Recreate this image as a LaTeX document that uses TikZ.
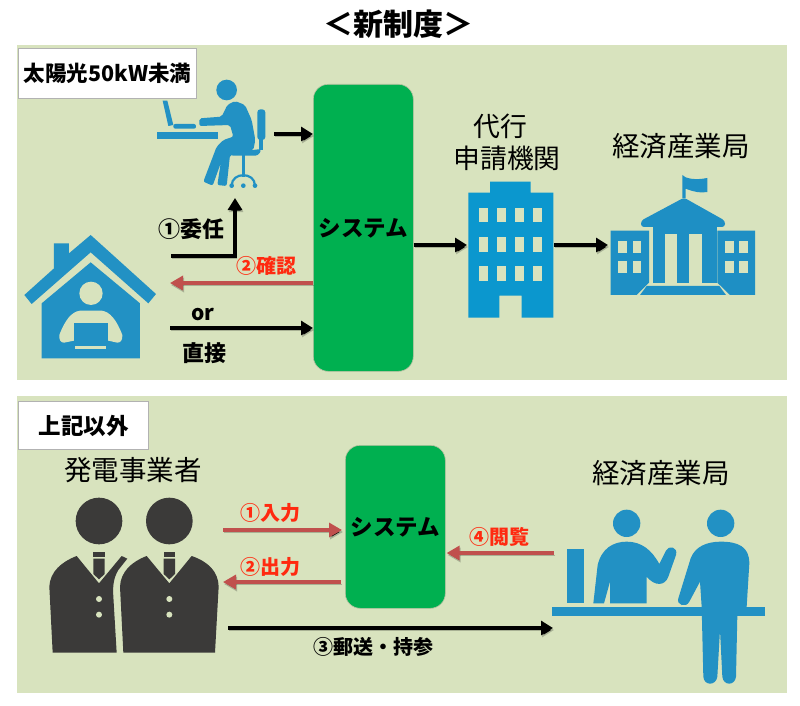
\documentclass[tikz,border=0pt]{standalone}
\usepackage{fontspec}
\setmainfont{Noto Sans CJK JP}
\usetikzlibrary{arrows.meta}
\definecolor{panelbg}{HTML}{D8E3BE}
\definecolor{sysgreen}{HTML}{00B050}
\definecolor{iconblue}{HTML}{2291C4}
\definecolor{bldblue}{HTML}{0B97CE}
\definecolor{metiblue}{HTML}{1E8FC4}
\definecolor{suit}{HTML}{3B3A39}
\definecolor{arrowred}{HTML}{C0504D}
\definecolor{txtred}{HTML}{FF2A10}
\newcommand{\fsz}[1]{\fontsize{#1}{#1}\selectfont}
\tikzset{
  panel/.style={fill=panelbg,draw=none},
  labelbox/.style={draw=black!30,line width=1pt,fill=white,anchor=north west,inner sep=0pt,font=\bfseries\fsz{21.5}},
  sysbox/.style={fill=sysgreen,draw=black!15!panelbg,line width=.6pt,rounded corners=15pt,anchor=north west,inner sep=0pt,font=\bfseries\fsz{22.5}},
  plain/.style={inner sep=0pt,font=\fsz{27.5}},
  blk/.style={inner sep=0pt,font=\bfseries\fsz{21}},
  redt/.style={inner sep=0pt,text=txtred,font=\bfseries\fsz{20}},
  shad/.style={preaction={draw=black,draw opacity=.22,transform canvas={shift={(1pt,-2pt)}}}},
  blackarrow/.style={shad,draw=black,line width=3.4pt,-{Triangle[width=14pt,length=12pt]}},
  redarrow/.style={shad,draw=arrowred,line width=4pt,-{Triangle[width=14pt,length=13pt]}},
  zoomA/.style={shift={(0,40)},scale=1/3},
  zoomB/.style={shift={(440,100)},scale=1/3},
  zoomC/.style={shift={(20,450)},scale=1/3},
  zoomD/.style={shift={(430,450)},scale=1/3},
}
\begin{document}
\begin{tikzpicture}[x=1pt,y=-1pt]
\useasboundingbox (0,0) rectangle (800,706);
\fill[white] (0,0) rectangle (800,706);
\fill[panel] (17,45) rectangle (787,380);
\fill[panel] (17,396) rectangle (787,693);
\node[inner sep=0pt,font=\bfseries\fsz{30}] (title) at (398,24) {＜新制度＞};
\node[labelbox,minimum width=178pt,minimum height=50pt] (lab1) at (18,48) {太陽光50kW未満};
\node[labelbox,minimum width=130pt,minimum height=48pt,font=\bfseries\fsz{22.5}] (lab2) at (18,401) {上記以外};

% worker
\begin{scope}[zoomA,iconblue]
\fill (680,150) circle (31);
\fill (488,182) -- (502,182) -- (520,255) -- (505,258) -- cycle;
\fill[rounded corners=2pt] (520,252) rectangle (588,266);
\fill (472,275) rectangle (655,296);
\fill[rounded corners=2pt] (598,235) -- (598,258) -- (690,255) -- (700,290) -- (670,300) -- (650,320) -- (610,425) -- (638,437) -- (662,370) -- (652,435) -- (680,438) -- (690,345) -- (760,330) -- (766,300) -- (755,240) -- (735,195) -- (705,183) -- (682,195) -- (665,230) -- cycle;
\fill[rounded corners=3pt] (772,208) rectangle (796,300);
\fill (778,295) rectangle (788,330);
\fill[rounded corners=3pt] (690,337) -- (785,327) -- (775,347) -- (690,347) -- cycle;
\fill (725,345) rectangle (735,410);
\draw[line width=2.2pt] (695,437) .. controls (695,395) and (765,395) .. (765,437);
\fill (695,437) circle (7);
\fill (730,437) circle (7);
\fill (765,437) circle (7);
\end{scope}

% house
\begin{scope}[zoomA]
\fill[iconblue] (162,610) -- (207,610) -- (207,640) -- (272,585) -- (468,762) -- (445,790) -- (272,637) -- (95,792) -- (73,765) -- (162,685) -- cycle;
\fill[iconblue] (125,790) -- (272,667) -- (420,790) -- (420,955) -- (125,955) -- cycle;
\fill[panelbg] (273,760) circle (35);
\fill[panelbg] (178,885) .. controls (195,840) and (215,815) .. (240,812) -- (305,812) .. controls (330,815) and (350,840) .. (367,885) .. controls (368,900) and (362,908) .. (352,908) -- (325,902) -- (222,902) -- (192,908) .. controls (182,908) and (177,900) .. (178,885) -- cycle;
\fill[iconblue] (222,848) rectangle (325,905);
\fill[panelbg] (225,917) rectangle (318,927);
\end{scope}

% agency building
\begin{scope}[zoomB,bldblue]
\fill (150,245) -- (272,245) -- (272,278) -- (340,278) -- (340,653) -- (245,653) -- (245,587) -- (178,587) -- (178,653) -- (85,653) -- (85,278) -- (150,278) -- cycle;
\foreach \wx in {117,171,225,280}
  \foreach \wy in {323,411,499}
    \fill[panelbg] (\wx,\wy) rectangle ++(27,44);
\end{scope}

% METI building
\begin{scope}[zoomB,metiblue]
\fill (727,225) -- (737,232) .. controls (760,240) and (780,238) .. (802,234) -- (802,276) .. controls (780,280) and (760,275) .. (737,266) -- (737,295) -- (727,295) -- cycle;
\fill[rounded corners=3pt] (732,293) -- (855,362) -- (855,381) -- (603,381) -- (603,362) -- cycle;
\fill (640,380) rectangle (832,548);
\fill[panelbg] (675,403) rectangle (712,548);
\fill[panelbg] (748,403) rectangle (785,548);
\fill (620,558) -- (838,558) -- (858,585) -- (600,585) -- cycle;
\fill (512,392) -- (627,392) -- (627,548) -- (590,585) -- (512,585) -- cycle;
\fill (832,392) -- (945,392) -- (945,585) -- (870,585) -- (832,548) -- cycle;
\foreach \wx in {535,578,855,897}
  \foreach \wy in {423,482}
    \fill[panelbg] (\wx,\wy) rectangle ++(26,37);
\end{scope}

% businessmen
\begin{scope}[zoomC,suit]
\fill (237,213) circle (70);
\fill (448,213) circle (70);
\fill (170,318) -- (237,400) -- (305,318) -- (322,326) -- (295,360) .. controls (280,385) and (278,410) .. (280,440) -- (290,608) -- (98,608) -- (88,410) .. controls (90,365) and (125,335) .. (170,318) -- cycle;
\fill (380,318) -- (448,400) -- (515,318) .. controls (565,335) and (595,365) .. (596,410) -- (585,608) -- (310,608) -- (300,410) .. controls (302,365) and (335,335) .. (380,318) -- cycle;
\foreach \bx in {237,448}{
  \fill (\bx-17,307) rectangle (\bx+17,322);
  \fill (\bx-17,326) -- (\bx+17,326) -- (\bx+17,372) -- (\bx,388) -- (\bx-17,372) -- cycle;
  \fill[panelbg] (\bx,447) circle (9);
  \fill[panelbg] (\bx,494) circle (9);
}
\end{scope}

% counter
\begin{scope}[zoomD,iconblue]
\fill (590,220) circle (41);
\fill (872,220) circle (41);
\fill (410,296) rectangle (462,459);
\fill (366,471) rectangle (1004,497);
\fill (490,460) -- (503,345) .. controls (515,295) and (550,275) .. (590,275) .. controls (635,275) and (665,300) .. (688,342) -- (708,302) .. controls (715,285) and (745,290) .. (738,315) -- (715,380) .. controls (705,408) and (675,410) .. (650,380) -- (650,460) -- (540,460) -- (540,395) -- (522,460) -- cycle;
\fill (872,275) .. controls (925,275) and (958,290) .. (958,340) -- (950,470) -- (922,497) -- (918,680) .. controls (915,708) and (880,708) .. (877,680) -- (870,540) -- (862,680) .. controls (858,708) and (822,708) .. (820,680) -- (815,470) -- (810,395) -- (778,455) .. controls (768,475) and (738,465) .. (745,445) -- (782,325) .. controls (795,290) and (830,275) .. (872,275) -- cycle;
\end{scope}

% systems
\node[sysbox,minimum width=100pt,minimum height=287pt] (sysA) at (313,84) {システム};
\node[sysbox,minimum width=100pt,minimum height=163pt] (sysB) at (345,445) {システム};

% text labels
\node[plain,font=\fsz{26.8}] (dai) at (500,126) {代行};
\node[plain,font=\fsz{26.8}] (shin) at (507,158) {申請機関};
\node[plain] (metiA) at (681,146) {経済産業局};
\node[plain] (hatsu) at (133,470) {発電事業者};
\node[plain] (metiB) at (661,473) {経済産業局};
\node[blk,font=\bfseries\fsz{22}] (inin) at (191,229) {①委任};
\node[redt] (kakunin) at (266,266) {②確認};
\node[blk] (orlab) at (203,315) {or};
\node[blk,font=\bfseries\fsz{22}] (choku) at (204,353) {直接};
\node[redt] (nyu) at (270,513) {①入力};
\node[redt] (shutsu) at (270,567) {②出力};
\node[redt] (etsu) at (499,537) {④閲覧};
\node[blk,font=\bfseries\fsz{20}] (yuso) at (373,647) {③郵送・持参};

% anchors on the icons
\coordinate (workerE) at (274,134);
\coordinate (workerS) at (235,198);
\coordinate (houseA) at (171,256);
\coordinate (houseB) at (170,283);
\coordinate (houseC) at (170,328);
\coordinate (agencyW) at (467,245);
\coordinate (agencyE) at (554,245);
\coordinate (metiW) at (608,245);
\coordinate (menA) at (223,530);
\coordinate (menB) at (223,582);
\coordinate (menC) at (228,628);
\coordinate (deskA) at (554,553);
\coordinate (deskB) at (553,628);

% connectors
\draw[blackarrow] (workerE) -- (sysA.west |- workerE);
\draw[blackarrow] (houseA) -| (workerS);
\draw[redarrow] (sysA.west |- houseB) -- (houseB);
\draw[blackarrow] (houseC) -- (sysA.west |- houseC);
\draw[blackarrow] (sysA.east |- agencyW) -- (agencyW);
\draw[blackarrow] (agencyE) -- (metiW);
\draw[redarrow] (menA) -- ([xshift=-3pt]sysB.west |- menA);
\draw[redarrow] ([xshift=-4pt]sysB.west |- menB) -- (menB);
\draw[blackarrow] (menC) -- (deskB);
\draw[redarrow] (deskA) -- ([xshift=1pt]sysB.east |- deskA);
\end{tikzpicture}
\end{document}
